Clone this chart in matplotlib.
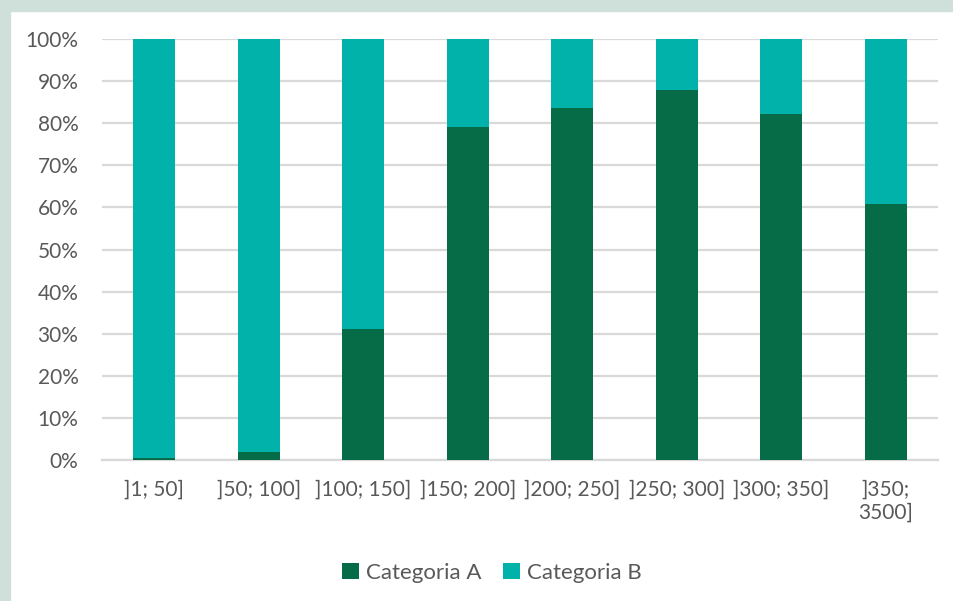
import matplotlib.pyplot as plt
from matplotlib.patches import Rectangle
from matplotlib.ticker import PercentFormatter

categories = ["]1; 50]", "]50; 100]", "]100; 150]", "]150; 200]", "]200; 250]",
              "]250; 300]", "]300; 350]", "]350;\n3500]"]
cat_a = [0.5, 2.0, 31.0, 79.0, 83.5, 88.0, 82.2, 60.7]
cat_b = [100 - v for v in cat_a]

DARK = "#066c48"
TEAL = "#00b2a9"
TEXT = "#595959"
GRID = "#d9d9d9"

plt.rcParams["font.family"] = ["Lato", "DejaVu Sans"]

fig = plt.figure(figsize=(9.54, 6.01), dpi=100)
fig.patch.set_facecolor("white")
# light frame on top and left edge
fig.add_artist(Rectangle((0, 1 - 11 / 601), 1, 11 / 601, transform=fig.transFigure,
                         color="#cfe0da", zorder=-1))
fig.add_artist(Rectangle((0, 0), 10 / 954, 1, transform=fig.transFigure,
                         color="#cfe0da", zorder=-1))

ax = fig.add_axes([102 / 954, 1 - 460 / 601, 836 / 954, 421 / 601])
x = range(len(categories))
ax.bar(x, cat_a, width=0.4, color=DARK, label="Categoria A", zorder=3)
ax.bar(x, cat_b, width=0.4, bottom=cat_a, color=TEAL, label="Categoria B", zorder=3)

ax.set_xlim(-0.5, len(categories) - 0.5)
ax.set_ylim(0, 100)
ax.set_yticks(range(0, 101, 10))
ax.yaxis.set_major_formatter(PercentFormatter(decimals=0))
ax.set_xticks(list(x))
ax.set_xticklabels(categories, ha="center")
ax.grid(axis="y", color=GRID, linewidth=1.6, zorder=0)
for side in ["top", "right", "left"]:
    ax.spines[side].set_visible(False)
ax.spines["bottom"].set_color(GRID)
ax.spines["bottom"].set_linewidth(1.6)
ax.tick_params(axis="y", length=0, pad=17, labelsize=15, labelcolor=TEXT)
ax.tick_params(axis="x", length=0, pad=14, labelsize=15, labelcolor=TEXT)

ax.legend(loc="center", bbox_to_anchor=(492 / 954, 1 - 573 / 601), bbox_transform=fig.transFigure,
          ncol=2, frameon=False, fontsize=16, labelcolor=TEXT, handlelength=0.75,
          handleheight=0.75, handletextpad=0.3, columnspacing=1.0)

fig.savefig("out.png", dpi=100)
